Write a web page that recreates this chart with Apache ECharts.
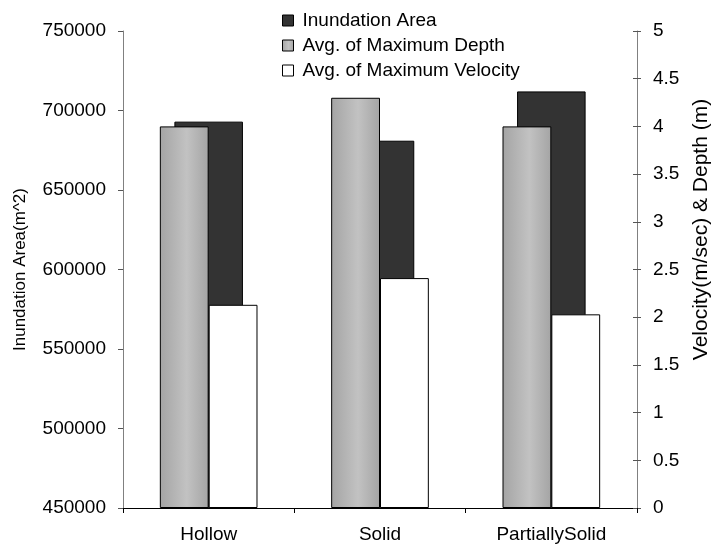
<!DOCTYPE html>
<html>
<head>
<meta charset="utf-8">
<script src="https://cdn.jsdelivr.net/npm/echarts@6/dist/echarts.min.js"></script>
<style>
  html, body { margin: 0; padding: 0; background: #fff; }
  #chart { width: 720px; height: 545px; }
</style>
</head>
<body>
<div id="chart"></div>
<script>
// Categories and measured values
const categories = ['Hollow', 'Solid', 'PartiallySolid'];
const inundationArea = [693000, 681000, 712000];   // m^2, left axis
const maxDepth = [4.0, 4.3, 4.0];                  // m, right axis
const maxVelocity = [2.13, 2.41, 2.03];            // m/sec, right axis

const FONT = 'Liberation Sans, Arial, sans-serif';

const depthFill = {
  type: 'linear', x: 0, y: 0, x2: 1, y2: 0,
  colorStops: [
    { offset: 0, color: '#a4a4a4' },
    { offset: 0.55, color: '#c2c2c2' },
    { offset: 1, color: '#a4a4a4' }
  ]
};

const chart = echarts.init(document.getElementById('chart'), null, { renderer: 'canvas' });

chart.setOption({
  animation: false,
  backgroundColor: '#ffffff',
  textStyle: { fontFamily: FONT, color: '#000' },
  grid: { left: 123, right: 81, top: 31, bottom: 37, containLabel: false },
  legend: {
    orient: 'vertical',
    left: 277,
    top: 6,
    itemWidth: 11,
    itemHeight: 11,
    itemGap: 6,
    icon: 'rect',
    textStyle: { fontFamily: FONT, fontSize: 19, color: '#000', padding: [0, 0, 0, 4] },
    itemStyle: { borderColor: '#000', borderWidth: 1 },
    data: ['Inundation Area', 'Avg. of Maximum Depth', 'Avg. of Maximum Velocity']
  },
  xAxis: [
    {
      type: 'category',
      data: categories,
      axisLine: { lineStyle: { color: '#000', width: 1 } },
      axisTick: { show: true, length: 5, lineStyle: { color: '#000' } },
      axisLabel: { fontFamily: FONT, fontSize: 19, color: '#000', margin: 17 },
      splitLine: { show: false }
    },
    {
      type: 'category',
      data: categories,
      show: false
    }
  ],
  yAxis: [
    {
      type: 'value',
      position: 'left',
      min: 450000,
      max: 750000,
      interval: 50000,
      name: 'Inundation Area(m^2)',
      nameLocation: 'middle',
      nameRotate: 90,
      nameGap: 94,
      nameTextStyle: { fontFamily: FONT, fontSize: 17, color: '#000' },
      axisLine: { show: true, lineStyle: { color: '#808080' } },
      axisTick: { show: true, length: 5, lineStyle: { color: '#555' } },
      axisLabel: { fontFamily: FONT, fontSize: 19, color: '#000', margin: 17, formatter: v => String(v) },
      splitLine: { show: false }
    },
    {
      type: 'value',
      position: 'right',
      min: 0,
      max: 5,
      interval: 0.5,
      name: 'Velocity(m/sec) & Depth (m)',
      nameLocation: 'middle',
      nameRotate: 90,
      nameGap: 54,
      nameTextStyle: { fontFamily: FONT, fontSize: 21, color: '#000', padding: [0, 0, 0, 80] },
      axisLine: { show: true, lineStyle: { color: '#808080' } },
      axisTick: { show: true, length: 4, lineStyle: { color: '#555' } },
      axisLabel: { fontFamily: FONT, fontSize: 19, color: '#000', margin: 16 },
      splitLine: { show: false }
    },
    {
      // inner half of the crossing ticks on the right axis
      type: 'value',
      position: 'right',
      min: 0,
      max: 5,
      interval: 0.5,
      axisLine: { show: false },
      axisTick: { show: true, inside: true, length: 4, lineStyle: { color: '#555' } },
      axisLabel: { show: false },
      splitLine: { show: false }
    }
  ],
  series: [
    {
      name: 'Inundation Area',
      type: 'bar',
      xAxisIndex: 0,
      yAxisIndex: 0,
      barWidth: '40%',
      z: 2,
      itemStyle: { color: '#333333', borderColor: '#000', borderWidth: 1 },
      data: inundationArea
    },
    {
      name: 'Avg. of Maximum Depth',
      type: 'bar',
      xAxisIndex: 1,
      yAxisIndex: 1,
      barWidth: '28.5%',
      barGap: '0%',
      z: 3,
      itemStyle: { color: depthFill, borderColor: '#000', borderWidth: 1 },
      data: maxDepth
    },
    {
      name: 'Avg. of Maximum Velocity',
      type: 'bar',
      xAxisIndex: 1,
      yAxisIndex: 1,
      barWidth: '28.5%',
      barGap: '0%',
      z: 3,
      itemStyle: { color: '#ffffff', borderColor: '#000', borderWidth: 1 },
      data: maxVelocity
    }
  ]
});
</script>
</body>
</html>
